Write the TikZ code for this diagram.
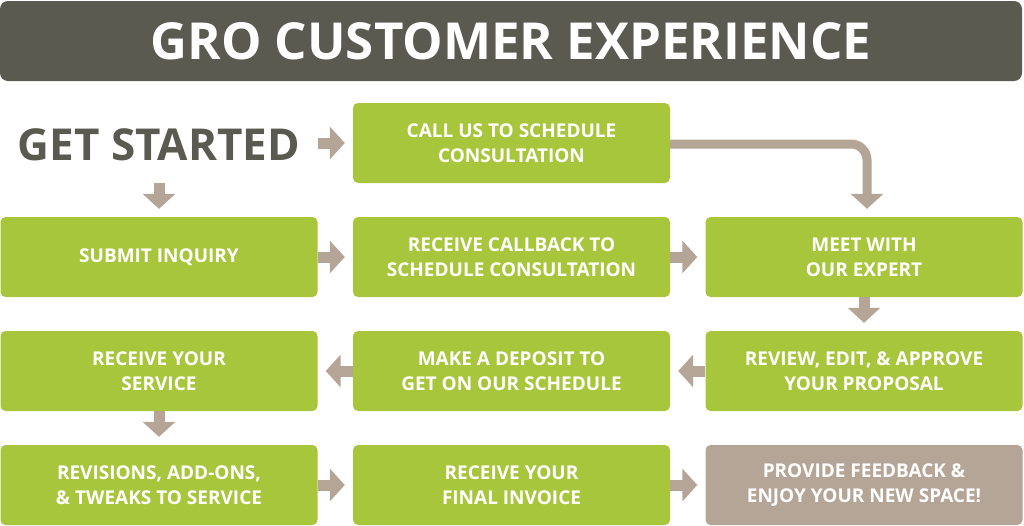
\documentclass[tikz,border=0pt]{standalone}
\usepackage{fontspec}
\setmainfont{Open Sans}
\usetikzlibrary{arrows.meta,positioning}
\definecolor{grogreen}{HTML}{A8C63B}
\definecolor{grotaupe}{HTML}{B5A597}
\definecolor{grodark}{HTML}{5A5A50}
\tikzset{
  stepbox/.style={fill=grogreen, rounded corners=5pt, minimum width=317pt, minimum height=80pt,
    inner sep=0pt, text=white, align=center, font=\bfseries\fontsize{19}{25}\selectfont},
  endbox/.style={stepbox, fill=grotaupe},
  flow/.style={draw=grotaupe, line width=11pt, -{Triangle[width=32pt,length=15pt]}, shorten >=8pt},
}
\begin{document}
\begin{tikzpicture}[x=1pt,y=-1pt]
        \def\colA{159} \def\colB{511.5} \def\colC{864}
        \useasboundingbox (0,0) rectangle (1024,525);
        \node[fill=grodark, rounded corners=8pt, minimum width=1022pt, minimum height=80pt, inner sep=0pt,
          text=white, font=\bfseries\fontsize{51}{60}\selectfont] (title) at (511,41) {GRO CUSTOMER EXPERIENCE};
        \node[minimum width=318pt, minimum height=80pt, inner sep=0pt, text=grodark,
          font=\bfseries\fontsize{44}{50}\selectfont] (start) at (\colA,145) {GET STARTED};
        \node[stepbox] (call) at (\colB,143) {CALL US TO SCHEDULE\\CONSULTATION};
        \node[stepbox] (inquiry) at (\colA,257) {SUBMIT INQUIRY};
        \node[stepbox] (callback) at (\colB,257) {RECEIVE CALLBACK TO\\SCHEDULE CONSULTATION};
        \node[stepbox] (expert) at (\colC,257) {MEET WITH\\OUR EXPERT};
        \node[stepbox] (service) at (\colA,371) {RECEIVE YOUR\\SERVICE};
        \node[stepbox] (deposit) at (\colB,371) {MAKE A DEPOSIT TO\\GET ON OUR SCHEDULE};
        \node[stepbox] (proposal) at (\colC,371) {REVIEW, EDIT, \& APPROVE\\YOUR PROPOSAL};
        \node[stepbox] (tweaks) at (\colA,485) {REVISIONS, ADD-ONS,\\\& TWEAKS TO SERVICE};
        \node[stepbox] (invoice) at (\colB,485) {RECEIVE YOUR\\FINAL INVOICE};
        \node[endbox] (enjoy) at (\colC,485) {PROVIDE FEEDBACK \&\\ENJOY YOUR NEW SPACE!};
        \draw[flow] (start.east |- call) -- (call);
        \draw[flow] (start.south |- call.south) -- (inquiry);
        \draw[flow, line width=9pt, rounded corners=16pt] ([yshift=-1pt]call.east) -| ([xshift=3pt]expert.north);
        \draw[flow] (inquiry) -- (callback);
        \draw[flow] (callback) -- (expert);
        \draw[flow] (expert) -- (proposal);
        \draw[flow] (proposal) -- (deposit);
        \draw[flow] (deposit) -- (service);
        \draw[flow] (service) -- (tweaks);
        \draw[flow] (tweaks) -- (invoice);
        \draw[flow] (invoice) -- (enjoy);
    \end{tikzpicture}
\end{document}
